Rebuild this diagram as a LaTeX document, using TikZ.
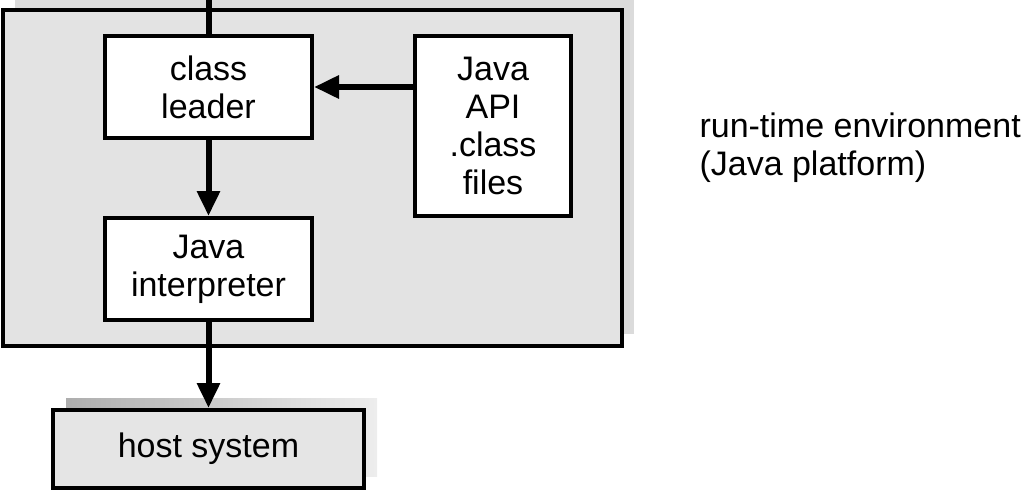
\documentclass[tikz,border=0pt]{standalone}
\usepackage{fontspec}
\setmainfont{Liberation Sans}
\usetikzlibrary{arrows.meta}

\begin{document}
\begin{tikzpicture}[x=1pt,y=-1pt,
  txt/.style={font=\fontsize{34pt}{38pt}\selectfont,align=center},
  box/.style={txt,draw,line width=4pt,fill=white,inner sep=0pt},
  flow/.style={-{Triangle[length=25pt,width=22pt]},line width=6pt}]
  \useasboundingbox (0,0) rectangle (1024,491);

  % Run-time environment with its shadow
  \fill[black!14] (15,-2) rectangle (634,334);
  \node[box,fill=black!11,minimum width=619pt,minimum height=336pt] (jvm) at (312.5,178) {};

  % Inner boxes
  \node[box,minimum width=207pt,minimum height=102pt] (classld) at (208.5,87) {class\\leader};
  \node[box,minimum width=156pt,minimum height=180pt] (api) at (493,126) {Java\\API\\.class\\files};
  \node[box,minimum width=207pt,minimum height=102pt] (interp) at (208.5,269) {Java\\interpreter};

  % Host system with its shadow
  \fill[left color=black!32,right color=black!7] (66,398) rectangle (377,476);
  \node[box,fill=black!10,minimum width=311pt,minimum height=78pt] (host) at (208.5,449) {host system};

  % Label
  \node[txt,align=left,anchor=west] (envlab) at (696,148) {run-time environment\\(Java platform)};

  % Arrows
  \coordinate (in) at (208.5,0);
  \draw[line width=6pt] (in) -- (classld.north);
  \draw[flow] (api.west |- classld.east) -- (classld.east);
  \draw[flow] (classld) -- (interp);
  \draw[flow] (interp) -- (host);
\end{tikzpicture}
\end{document}
